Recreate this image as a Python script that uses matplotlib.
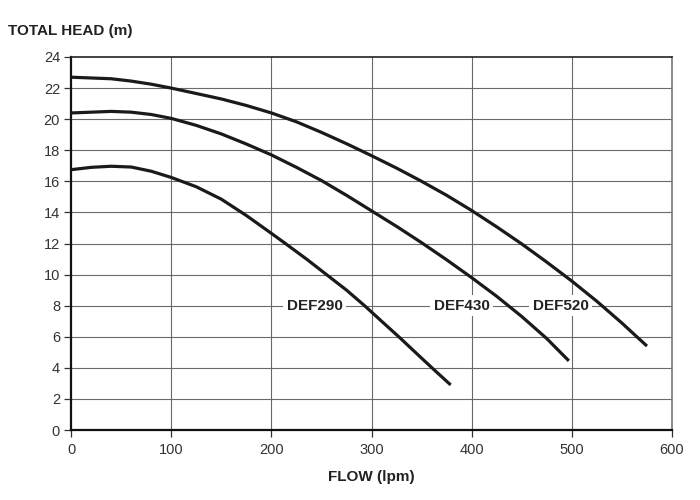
import matplotlib
matplotlib.use("Agg")
import matplotlib.pyplot as plt

plt.rcParams['font.family'] = ['Liberation Sans', 'DejaVu Sans']

# pump curves (flow in lpm, head in m)
def290_flow = [0, 20, 40, 60, 80, 100, 125, 150, 175, 200, 215, 235, 255, 275, 293, 310, 328, 345, 362, 379]
def290_head = [16.75, 16.9, 16.97, 16.92, 16.65, 16.25, 15.65, 14.85, 13.8, 12.65, 11.95, 11.0, 10.0, 9.0, 8.0, 7.0, 5.95, 4.92, 3.9, 2.9]

def430_flow = [0, 20, 40, 60, 80, 100, 125, 150, 175, 200, 225, 250, 275, 300, 325, 350, 375, 400, 425, 450, 475, 497]
def430_head = [20.4, 20.45, 20.5, 20.45, 20.3, 20.05, 19.6, 19.05, 18.4, 17.7, 16.9, 16.05, 15.1, 14.1, 13.1, 12.05, 10.95, 9.8, 8.6, 7.3, 5.88, 4.45]

def520_flow = [0, 20, 40, 60, 80, 100, 125, 150, 175, 200, 225, 250, 275, 300, 325, 350, 375, 400, 425, 450, 475, 500, 525, 550, 575]
def520_head = [22.7, 22.65, 22.6, 22.45, 22.25, 22.0, 21.65, 21.3, 20.88, 20.4, 19.83, 19.15, 18.42, 17.65, 16.85, 16.0, 15.1, 14.12, 13.07, 11.97, 10.8, 9.58, 8.28, 6.88, 5.4]

models = ["DEF290", "DEF430", "DEF520"]
label_x = [243, 390, 489]
label_y = 8

x_ticks = [0, 100, 200, 300, 400, 500, 600]
y_ticks = list(range(0, 25, 2))

fig = plt.figure(figsize=(7, 5), dpi=100)
ax = fig.add_axes([0.1016, 0.14, 0.8584, 0.746])

grid_col = "#6a6a6a"
for xt in x_ticks[1:-1]:
    ax.axvline(xt, color=grid_col, lw=0.8, zorder=1)
for yt in y_ticks[1:-1]:
    ax.axhline(yt, color=grid_col, lw=0.8, zorder=1)

curves = [(def290_flow, def290_head), (def430_flow, def430_head), (def520_flow, def520_head)]
for fl, hd in curves:
    ax.plot(fl, hd, color="#1a1a1a", lw=2.3, solid_capstyle="butt",
            solid_joinstyle="round", zorder=5)

# labels sit on the 8 m gridline, masking it with a white box
for name, lx in zip(models, label_x):
    ax.text(lx, label_y, name, ha="center", va="center", fontsize=11,
            fontweight="bold", color="#222222", zorder=3,
            bbox=dict(facecolor="white", edgecolor="none", pad=2.5))

ax.set_xlim(0, 600)
ax.set_ylim(0, 24)
ax.set_xticks(x_ticks)
ax.set_yticks(y_ticks)
ax.tick_params(axis="both", labelsize=10.5, labelcolor="#333333",
               length=5, width=0.9, color="#333333")
ax.tick_params(axis="y", pad=3)
ax.tick_params(axis="x", pad=4)

ax.spines["left"].set_linewidth(1.6)
ax.spines["bottom"].set_linewidth(1.6)
ax.spines["left"].set_color("#111111")
ax.spines["bottom"].set_color("#111111")
ax.spines["top"].set_linewidth(1.2)
ax.spines["top"].set_color("#222222")
ax.spines["right"].set_linewidth(1.2)
ax.spines["right"].set_color("#777777")

fig.text(0.011, 0.938, "TOTAL HEAD (m)", ha="left", va="center",
         fontsize=11, fontweight="bold", color="#222222")
fig.text(0.531, 0.045, "FLOW (lpm)", ha="center", va="center",
         fontsize=11, fontweight="bold", color="#222222")

fig.savefig("out.png", dpi=100, facecolor="white")
